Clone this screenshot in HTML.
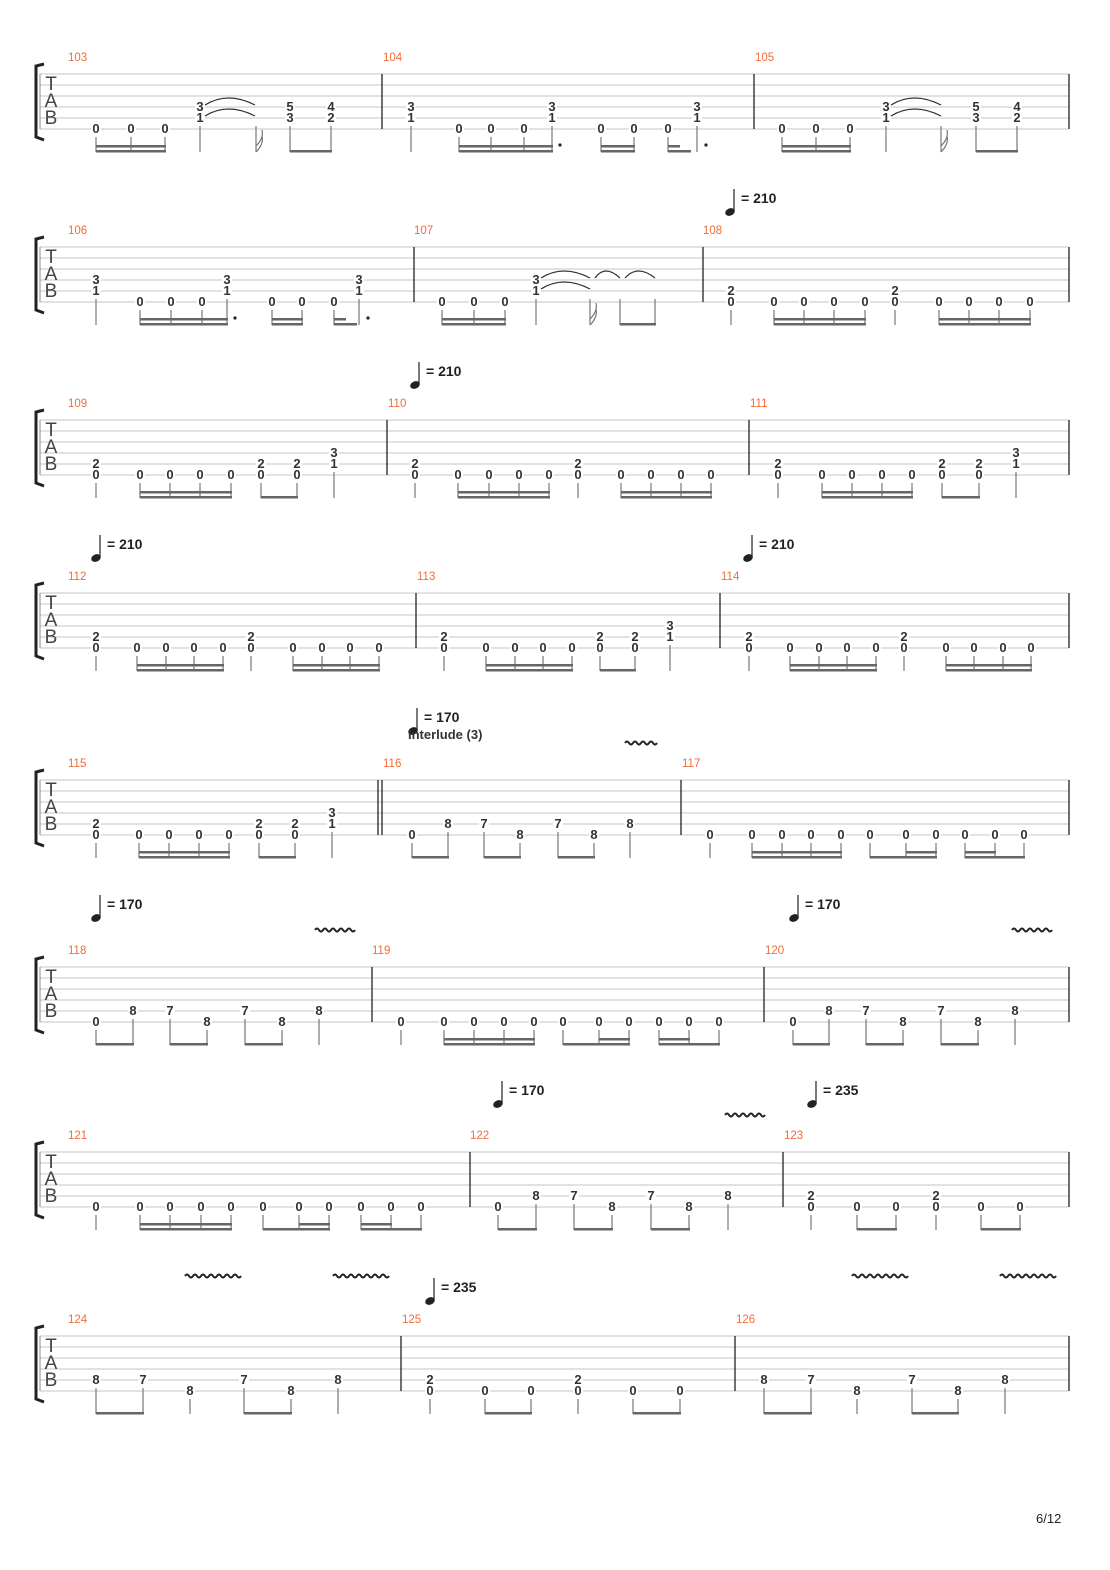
<!DOCTYPE html><html><head><meta charset="utf-8"><style>body{margin:0;background:#fff}svg{display:block}</style></head><body>
<svg id="s" xmlns="http://www.w3.org/2000/svg" width="1110" height="1570" font-family="Liberation Sans, sans-serif"></svg>
<script>
const S=document.getElementById('s');let h='';
function sys(top,bars,nums,notes,beams,extra){
 for(let i=0;i<6;i++)h+=`<line x1="40" x2="1069" y1="${top+i*11}" y2="${top+i*11}" stroke="#c4c4c4" stroke-width="1"/>`;
 h+=`<path d="M44 ${top-10} L36 ${top-8} L36 ${top+63} L44 ${top+66}" fill="none" stroke="#222" stroke-width="3"/>`;
 h+=`<line x1="40" x2="40" y1="${top}" y2="${top+55}" stroke="#888"/>`;
 h+=`<text x="51" y="${top+16}" font-size="19" fill="#444" text-anchor="middle">T</text><text x="51" y="${top+33}" font-size="19" fill="#444" text-anchor="middle">A</text><text x="51" y="${top+50}" font-size="19" fill="#444" text-anchor="middle">B</text>`;
 bars.forEach(x=>h+=`<line x1="${x}" x2="${x}" y1="${top}" y2="${top+55}" stroke="#222" stroke-width="1.3"/>`);
 nums.forEach(([x,n])=>h+=`<text x="${x}" y="${top-13}" font-size="11.5" fill="#f26b3a">${n}</text>`);
 notes.forEach(([x,fs,st])=>{let low=0;
  fs.forEach(([s,f])=>{const y=top+(s-1)*11;low=Math.max(low,y);
   if(f!==''){h+=`<rect x="${x-5}" y="${y-6}" width="10" height="11" fill="#fff"/><text x="${x}" y="${y+4}" font-size="13" font-weight="bold" fill="#333" text-anchor="middle">${f}</text>`;}});
  if(st!==0)h+=`<line x1="${x}" x2="${x}" y1="${low+8}" y2="${top+78}" stroke="#777" stroke-width="1.2"/>`;
  if(st==='g')h+=`<path d="M${x} ${top+78} Q${x+8} ${top+70} ${x+6} ${top+62} M${x} ${top+72} Q${x+8} ${top+64} ${x+6} ${top+56}" fill="none" stroke="#777" stroke-width="1.2"/>`;
 });
 beams.forEach(([a,b,n])=>{h+=`<rect x="${a}" y="${top+76}" width="${b-a+1}" height="2.5" fill="#666"/>`;if(n>1)h+=`<rect x="${a}" y="${top+71}" width="${b-a+1}" height="2.5" fill="#666"/>`;});
 (extra||[]).forEach(e=>h+=e(top));
}
function tempo(x,y,t){h+=`<ellipse cx="${x}" cy="${y+9}" rx="5" ry="3.6" transform="rotate(-25 ${x} ${y+9})" fill="#222"/><line x1="${x+4}" x2="${x+4}" y1="${y+8}" y2="${y-14}" stroke="#222" stroke-width="1.2"/><text x="${x+11}" y="${y}" font-size="14" font-weight="bold" fill="#222">= ${t}</text>`;}
function vib(x,y,w){let d=`M${x} ${y}`;for(let i=x;i<x+w;i+=8)d+=` q2 -3 4 0 q2 3 4 0`;h+=`<path d="${d}" fill="none" stroke="#222" stroke-width="2"/>`;}
function dot(x,top){return`<circle cx="${x}" cy="${top+71}" r="1.6" fill="#222"/>`;}
function tie(a,b,top,s){return `<path d="M${a+5} ${top+(s-1)*11-2} Q${(a+b)/2} ${top+(s-1)*11-16} ${b} ${top+(s-1)*11-2}" fill="none" stroke="#333" stroke-width="1.2"/>`;}
const z=x=>[x,[[6,0]]],c31=x=>[x,[[4,3],[5,1]]],c20=x=>[x,[[5,2],[6,0]]],f=(x,s,v)=>[x,[[s,v]]];
let t=74;
sys(t,[382,754,1069],[[68,103],[383,104],[755,105]],
[z(96),z(131),z(165),c31(200),[256,[[5,'']],'g'],[290,[[4,5],[5,3]]],[331,[[4,4],[5,2]]],
 c31(411),z(459),z(491),z(524),c31(552),z(601),z(634),z(668),c31(697),
 z(782),z(816),z(850),c31(886),[941,[[5,'']],'g'],[976,[[4,5],[5,3]]],[1017,[[4,4],[5,2]]]],
[[96,165,2],[290,331,1],[459,552,2],[601,634,2],[668,690,1],[668,679,2],[782,850,2],[976,1017,1]],
[T=>tie(200,255,T,4),T=>tie(200,255,T,5),T=>tie(886,941,T,4),T=>tie(886,941,T,5),T=>dot(560,T),T=>dot(706,T)]);
t=247;tempo(730,203,210);
sys(t,[414,703,1069],[[68,106],[414,107],[703,108]],
[c31(96),z(140),z(171),z(202),c31(227),z(272),z(302),z(334),c31(359),
 z(442),z(474),z(505),c31(536),[590,[[5,'']],'g'],[620,[[5,'']]],[655,[[5,'']]],
 c20(731),z(774),z(804),z(834),z(865),c20(895),z(939),z(969),z(999),z(1030)],
[[140,227,2],[272,302,2],[334,356,1],[334,345,2],[442,505,2],[620,655,1],[774,865,2],[939,1030,2]],
[T=>dot(235,T),T=>dot(368,T),T=>tie(536,590,T,4),T=>tie(536,590,T,5),T=>tie(590,620,T,4),T=>tie(620,655,T,4)]);
t=420;tempo(415,376,210);
sys(t,[387,749,1069],[[68,109],[388,110],[750,111]],
[c20(96),z(140),z(170),z(200),z(231),c20(261),c20(297),c31(334),
 c20(415),z(458),z(489),z(519),z(549),c20(578),z(621),z(651),z(681),z(711),
 c20(778),z(822),z(852),z(882),z(912),c20(942),c20(979),c31(1016)],
[[140,231,2],[261,297,1],[458,549,2],[621,711,2],[822,912,2],[942,979,1]]);
t=593;tempo(96,549,210);tempo(748,549,210);
sys(t,[416,720,1069],[[68,112],[417,113],[721,114]],
[c20(96),z(137),z(166),z(194),z(223),c20(251),z(293),z(322),z(350),z(379),
 c20(444),z(486),z(515),z(543),z(572),c20(600),c20(635),c31(670),
 c20(749),z(790),z(819),z(847),z(876),c20(904),z(946),z(974),z(1003),z(1031)],
[[137,223,2],[293,379,2],[486,572,2],[600,635,1],[790,876,2],[946,1031,2]]);
t=780;tempo(413,722,170);h+=`<text x="408" y="739" font-size="13" font-weight="bold" fill="#333">Interlude (3)</text>`;vib(625,743,32);
sys(t,[378,382,681,1069],[[68,115],[383,116],[682,117]],
[c20(96),z(139),z(169),z(199),z(229),c20(259),c20(295),c31(332),
 z(412),f(448,5,8),f(484,5,7),f(520,6,8),f(558,5,7),f(594,6,8),f(630,5,8),
 z(710),z(752),z(782),z(811),z(841),z(870),z(906),z(936),z(965),z(995),z(1024)],
[[139,229,2],[259,295,1],[412,448,1],[484,520,1],[558,594,1],[752,841,2],[870,936,1],[906,936,2],[965,1024,1],[965,995,2]]);
t=967;tempo(96,909,170);tempo(794,909,170);vib(315,930,40);vib(1012,930,40);
sys(t,[372,764,1069],[[68,118],[372,119],[765,120]],
[z(96),f(133,5,8),f(170,5,7),f(207,6,8),f(245,5,7),f(282,6,8),f(319,5,8),
 z(401),z(444),z(474),z(504),z(534),z(563),z(599),z(629),z(659),z(689),z(719),
 z(793),f(829,5,8),f(866,5,7),f(903,6,8),f(941,5,7),f(978,6,8),f(1015,5,8)],
[[96,133,1],[170,207,1],[245,282,1],[444,534,2],[563,629,1],[599,629,2],[659,719,1],[659,689,2],[793,829,1],[866,903,1],[941,978,1]]);
t=1152;tempo(498,1095,170);tempo(812,1095,235);vib(725,1115,40);
sys(t,[470,783,1069],[[68,121],[470,122],[784,123]],
[z(96),z(140),z(170),z(201),z(231),z(263),z(299),z(329),z(361),z(391),z(421),
 z(498),f(536,5,8),f(574,5,7),f(612,6,8),f(651,5,7),f(689,6,8),f(728,5,8),
 c20(811),z(857),z(896),c20(936),z(981),z(1020)],
[[140,231,2],[263,329,1],[299,329,2],[361,421,1],[361,391,2],[498,536,1],[574,612,1],[651,689,1],[857,896,1],[981,1020,1]]);
t=1336;tempo(430,1292,235);vib(185,1276,52);vib(333,1276,52);vib(852,1276,52);vib(1000,1276,52);
sys(t,[401,735,1069],[[68,124],[402,125],[736,126]],
[f(96,5,8),f(143,5,7),f(190,6,8),f(244,5,7),f(291,6,8),f(338,5,8),
 c20(430),z(485),z(531),c20(578),z(633),z(680),
 f(764,5,8),f(811,5,7),f(857,6,8),f(912,5,7),f(958,6,8),f(1005,5,8)],
[[96,143,1],[244,291,1],[485,531,1],[633,680,1],[764,811,1],[912,958,1]]);
h+=`<text x="1036" y="1523" font-size="13" fill="#222">6/12</text>`;
S.innerHTML=h;
</script></body></html>
